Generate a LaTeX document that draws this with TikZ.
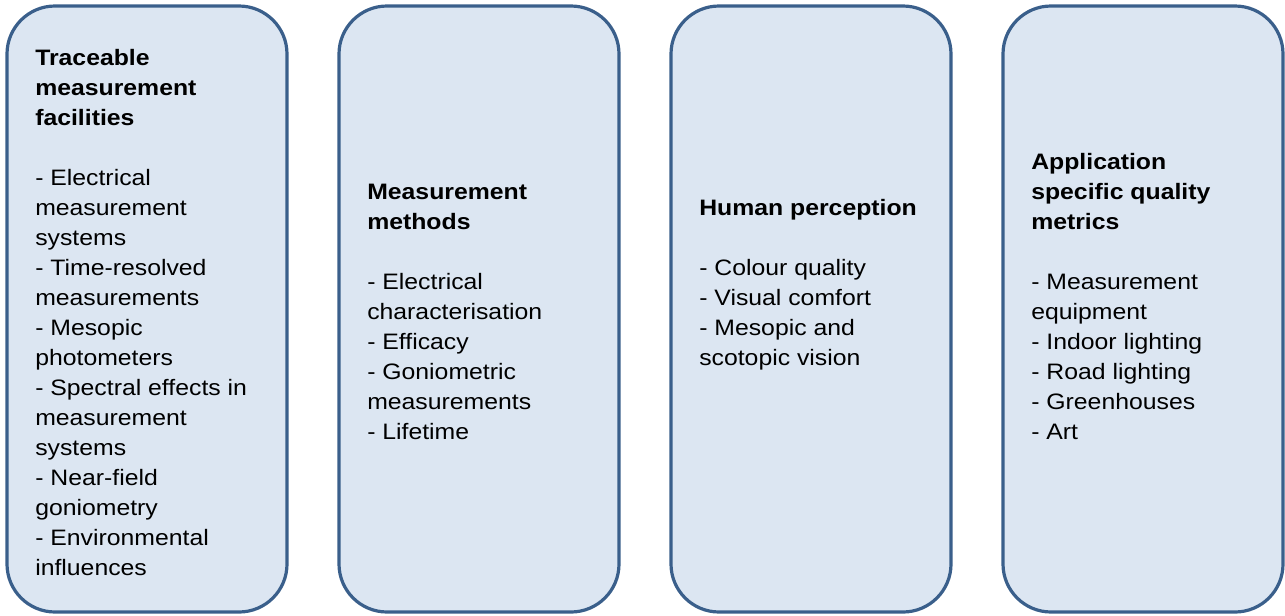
\documentclass[tikz,border=0pt]{standalone}
\usepackage{fontspec}
\setmainfont{Liberation Sans}[FakeStretch=1.11]
\usepackage{xcolor}
\usetikzlibrary{positioning,calc}

\definecolor{panelfill}{HTML}{DCE6F2}
\definecolor{paneledge}{HTML}{3A5F8B}

\tikzset{
  panel/.style={draw=paneledge, fill=panelfill, line width=2.4pt, rounded corners=36pt},
  paneltext/.style={anchor=north west, inner sep=0pt, align=left, font=\fontsize{16.75}{22.5}\selectfont},
}

\begin{document}
\begin{tikzpicture}[x=0.75pt,y=-0.75pt]
    \useasboundingbox (0,0) rectangle (1285,615);

    % Panels
    \foreach \xl in {7,339,671,1003}
        \draw[panel] (\xl,6) rectangle ++(280,606);

    % Facilities
    \node[paneltext] (facilities) at (35,44) {\strut\textbf{Traceable}\\ \textbf{measurement}\\ \textbf{facilities}\\[22.5pt]
        - Electrical\\ measurement\\ systems\\ - Time-resolved\\ measurements\\ - Mesopic\\ photometers\\
        - Spectral effects in\\ measurement\\ systems\\ - Near-field\\ goniometry\\ - Environmental\\ influences};

    % Methods
    \node[paneltext] (methods) at (367,178) {\strut\textbf{Measurement}\\ \textbf{methods}\\[22.5pt]
        - Electrical\\ characterisation\\ - Efficacy\\ - Goniometric\\ measurements\\ - Lifetime};

    % Perception
    \node[paneltext] (perception) at (699,194) {\strut\textbf{Human perception}\\[22.5pt]
        - Colour quality\\ - Visual comfort\\ - Mesopic and\\ scotopic vision};

    % Metrics
    \node[paneltext] (metrics) at (1031,148) {\strut\textbf{Application}\\ \textbf{specific quality}\\ \textbf{metrics}\\[22.5pt]
        - Measurement\\ equipment\\ - Indoor lighting\\ - Road lighting\\ - Greenhouses\\ - Art};
\end{tikzpicture}
\end{document}
